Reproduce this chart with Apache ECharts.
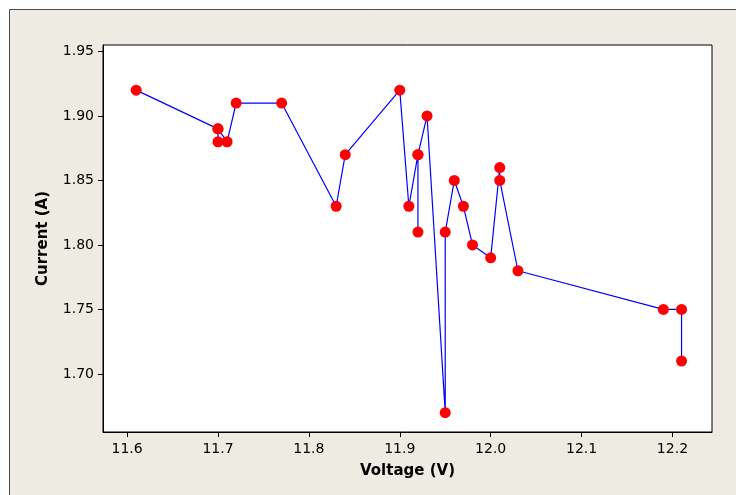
<!DOCTYPE html>
<html>
<head>
<meta charset="utf-8">
<script src="https://cdn.jsdelivr.net/npm/echarts@6/dist/echarts.min.js"></script>
<style>
  html, body { margin: 0; padding: 0; background: #fff; }
  #main { width: 736px; height: 495px; }
</style>
</head>
<body>
<div id="main"></div>
<script>
// values, in connection order
const voltage = [11.61, 11.70, 11.70, 11.70, 11.71, 11.72, 11.77, 11.83, 11.84, 11.90,
  11.91, 11.92, 11.92, 11.92, 11.93, 11.95, 11.95, 11.96, 11.97, 11.98,
  12.00, 12.01, 12.01, 12.03, 12.19, 12.21, 12.21];
const current = [1.92, 1.89, 1.88, 1.89, 1.88, 1.91, 1.91, 1.83, 1.87, 1.92,
  1.83, 1.87, 1.81, 1.87, 1.90, 1.67, 1.81, 1.85, 1.83, 1.80,
  1.79, 1.86, 1.85, 1.78, 1.75, 1.75, 1.71];
const xTicks = [11.6, 11.7, 11.8, 11.9, 12.0, 12.1, 12.2];
const yTicks = [1.70, 1.75, 1.80, 1.85, 1.90, 1.95];

const points = voltage.map((v, i) => [v, current[i]]);
const font = 'DejaVu Sans';

const chart = echarts.init(document.getElementById('main'));
chart.setOption({
  animation: false,
  backgroundColor: '#ffffff',
  graphic: [
    {
      type: 'rect',
      z: -10,
      silent: true,
      shape: { x: 9.5, y: 9.5, width: 800, height: 600 },
      style: { fill: '#eeebe2', stroke: '#4a4a4a', lineWidth: 1 }
    }
  ],
  grid: {
    left: 103,
    top: 45,
    right: 24,
    bottom: 63,
    show: true,
    backgroundColor: '#ffffff',
    borderColor: '#000000',
    borderWidth: 1
  },
  xAxis: {
    type: 'value',
    min: 11.5735,
    max: 12.2435,
    name: 'Voltage (V)',
    nameLocation: 'middle',
    nameGap: 32,
    nameTextStyle: { fontFamily: font, fontSize: 15, fontWeight: 'bold', color: '#000' },
    axisLine: { show: true, lineStyle: { color: '#000', width: 1 } },
    axisTick: { show: true, length: 5, lineStyle: { color: '#000' }, customValues: xTicks },
    axisLabel: {
      margin: 10,
      fontFamily: font,
      fontSize: 14,
      color: '#000',
      customValues: xTicks,
      formatter: (v) => v.toFixed(1)
    },
    splitLine: { show: false }
  },
  yAxis: {
    type: 'value',
    min: 1.655,
    max: 1.955,
    name: 'Current (A)',
    nameLocation: 'middle',
    nameGap: 52,
    nameTextStyle: { fontFamily: font, fontSize: 15, fontWeight: 'bold', color: '#000' },
    axisLine: { show: true, lineStyle: { color: '#000', width: 1 } },
    axisTick: { show: true, length: 5, lineStyle: { color: '#000' }, customValues: yTicks },
    axisLabel: {
      margin: 9,
      fontFamily: font,
      fontSize: 14,
      color: '#000',
      customValues: yTicks,
      formatter: (v) => v.toFixed(2)
    },
    splitLine: { show: false }
  },
  series: [
    {
      type: 'line',
      data: points,
      symbol: 'circle',
      symbolSize: 11,
      showAllSymbol: true,
      itemStyle: { color: '#ff0000', borderWidth: 0 },
      lineStyle: { color: '#0000ff', width: 1.2 },
      emphasis: { disabled: true }
    }
  ]
});
</script>
</body>
</html>
